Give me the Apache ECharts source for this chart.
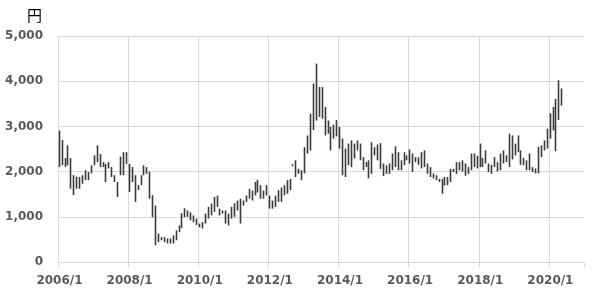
<!DOCTYPE html>
<html>
<head>
<meta charset="utf-8">
<script src="https://cdn.jsdelivr.net/npm/echarts@6/dist/echarts.min.js"></script>
<style>
html,body{margin:0;padding:0;background:#fff;}
#c{width:600px;height:298px;}
</style>
</head>
<body>
<div id="c"></div>
<script>
// Month categories 2006/1 .. 2020/12 (axis runs to 2021/1)
const firstYear = 2006;
const lastYear = 2020;
const months = [];
for (let y = firstYear; y <= lastYear; y++) {
  for (let m = 1; m <= 12; m++) months.push(y + '/' + m);
}

// Monthly high prices (円), 2006/1 .. 2020/5
const highs = [
  2910, 2700, 2300, 2580, 2300, 1920, 1890, 1880, 1920, 2030, 1990, 2140,
  2360, 2580, 2390, 2210, 2170, 2210, 2100, 1920, 1770, 2330, 2430, 2430,
  2170, 2100, 1920, 1700, 1920, 2140, 2100, 2000, 1480, 1250, 630, 550,
  550, 520, 520, 590, 700, 810, 1080, 1190, 1140, 1100, 1030, 960,
  850, 885, 1070, 1220, 1290, 1440, 1470, 1180, 1140, 1140, 1070, 1220,
  1300, 1360, 1400, 1360, 1470, 1620, 1580, 1770, 1820, 1700, 1580, 1700,
  1470, 1360, 1470, 1590, 1650, 1700, 1810, 1840, 2160, 2250, 2060, 2030,
  2540, 2800, 3280, 3950, 4390, 3870, 3870, 3430, 3130, 2990, 3040, 3140,
  2990, 2730, 2510, 2620, 2690, 2620, 2690, 2620, 2320, 2210, 2250, 2650,
  2540, 2600, 2630, 2180, 2140, 2180, 2400, 2560, 2430, 2250, 2430, 2360,
  2490, 2400, 2320, 2320, 2430, 2470, 2180, 2100, 1960, 1920, 1840, 1840,
  1880, 1880, 2060, 2060, 2210, 2210, 2250, 2180, 2100, 2400, 2400, 2350,
  2620, 2300, 2470, 2180, 2150, 2320, 2210, 2400, 2470, 2360, 2840, 2800,
  2620, 2800, 2470, 2300, 2250, 2400, 2100, 2070, 2550, 2580, 2690, 2950,
  3290, 3430, 3610, 4020, 3840
];

// Monthly low prices (円), 2006/1 .. 2020/5
const lows = [
  2100, 2140, 2100, 2140, 1620, 1480, 1620, 1620, 1730, 1810, 1810, 1960,
  2140, 2210, 2100, 2100, 1770, 2070, 1880, 1770, 1440, 1920, 1920, 2170,
  1550, 1770, 1330, 1590, 1700, 1920, 1950, 1400, 990, 370, 440, 480,
  440, 410, 410, 410, 480, 660, 750, 990, 1000, 920, 880, 820,
  770, 740, 850, 960, 1030, 1110, 1220, 1030, 1070, 850, 810, 960,
  1000, 1140, 850, 1250, 1330, 1400, 1360, 1470, 1540, 1400, 1400, 1470,
  1180, 1180, 1220, 1330, 1330, 1480, 1510, 1590, 2120, 1880, 1950, 1810,
  1960, 2400, 2470, 2920, 3130, 3210, 3170, 2800, 2840, 2470, 2730, 2780,
  2510, 1920, 1880, 2140, 2100, 2290, 2470, 2250, 2030, 2100, 1850, 1950,
  2360, 2250, 2060, 1900, 1950, 1950, 2030, 2100, 2030, 2030, 2140, 2250,
  2180, 1990, 2210, 2150, 2070, 2100, 1950, 1880, 1850, 1810, 1770, 1510,
  1690, 1700, 1770, 1990, 1950, 2030, 2000, 1910, 1950, 2030, 2100, 2070,
  2100, 2100, 2180, 1990, 1950, 2100, 2000, 2030, 2180, 2210, 2100, 2270,
  2360, 2430, 2150, 2140, 2030, 2030, 1990, 1960, 1960, 2320, 2470, 2510,
  2730, 2910, 2450, 3140, 3460
];

const yMin = 0, yMax = 5000, yStep = 1000;
const labelEvery = 24; // label/gridline every two years

const candles = lows.map((l, i) => [l, highs[i], l, highs[i]]);

const labelFont = {
  color: '#595959',
  fontFamily: 'DejaVu Sans',
  fontWeight: 'bold',
  fontSize: 12
};

const chart = echarts.init(document.getElementById('c'), null, {renderer: 'canvas'});
chart.setOption({
  animation: false,
  backgroundColor: '#ffffff',
  title: {
    text: '円',
    left: 27,
    top: 8,
    padding: 0,
    textStyle: {fontFamily: 'Noto Sans CJK JP', fontSize: 15, fontWeight: 'normal', color: '#000000'}
  },
  grid: {left: 58, right: 16, top: 36, bottom: 36},
  xAxis: {
    type: 'category',
    data: months,
    boundaryGap: true,
    axisLine: {show: true, lineStyle: {color: '#d9d9d9', width: 1}},
    axisTick: {show: true, length: 5, interval: (i) => i % labelEvery === 0, lineStyle: {color: '#d9d9d9'}},
    axisLabel: Object.assign({interval: (i) => i % labelEvery === 0, margin: 13}, labelFont),
    splitLine: {show: true, interval: (i) => i % labelEvery === 0, showMaxLine: false, lineStyle: {color: '#d9d9d9', width: 1}}
  },
  yAxis: {
    type: 'value',
    min: yMin,
    max: yMax,
    interval: yStep,
    axisLine: {show: false},
    axisTick: {show: false},
    axisLabel: Object.assign({margin: 15, formatter: (v) => v.toLocaleString('en-US')}, labelFont),
    splitLine: {show: true, lineStyle: {color: '#d9d9d9', width: 1}}
  },
  series: [{
    type: 'candlestick',
    data: candles,
    barWidth: 1,
    itemStyle: {
      color: '#3a3a3a', color0: '#3a3a3a',
      borderColor: '#3a3a3a', borderColor0: '#3a3a3a',
      borderWidth: 1.6
    }
  }]
});
</script>
</body>
</html>
